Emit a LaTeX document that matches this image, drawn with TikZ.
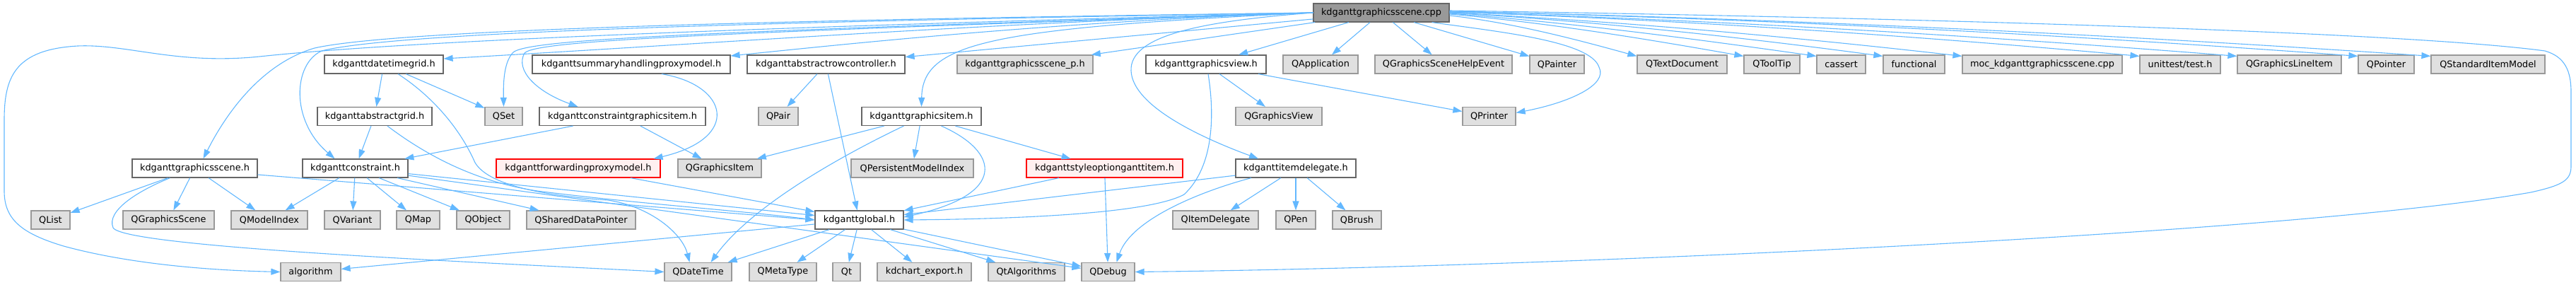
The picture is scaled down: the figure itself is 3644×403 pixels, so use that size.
\documentclass[tikz,border=0pt]{standalone}
\usepackage{fontspec}
\setmainfont{DejaVu Sans}
\usetikzlibrary{arrows.meta}

\definecolor{edgeblue}{HTML}{63B8FF}
\definecolor{darkborder}{HTML}{666666}
\definecolor{sysborder}{HTML}{999999}
\definecolor{sysfill}{HTML}{E0E0E0}
\definecolor{warnfill}{HTML}{FFF0F0}

\begin{document}
\begin{tikzpicture}[x=1pt, y=-1pt,
  base_node/.style={rectangle, line width=1.2pt, minimum height=26pt, inner sep=0pt, font=\fontsize{12.85}{15}\selectfont},
  file_node/.style={base_node, draw=darkborder, fill=white},
  sys_node/.style={base_node, draw=sysborder, fill=sysfill},
  root_node/.style={base_node, draw=darkborder, fill=sysborder},
  warn_node/.style={base_node, draw=red, fill=warnfill},
  dep_edge/.style={draw=edgeblue, line width=1.1pt, -{Triangle[length=13pt, width=9pt]}}]

    \useasboundingbox (0,0) rectangle (3644,403);

    \node[root_node, minimum width=192pt] (cpp) at (1954,18) {kdganttgraphicsscene.cpp};

    % row 1
    \node[file_node, minimum width=168pt] (dtgrid) at (543,91) {kdganttdatetimegrid.h};
    \node[file_node, minimum width=280pt] (summary) at (893,91) {kdganttsummaryhandlingproxymodel.h};
    \node[file_node, minimum width=223pt] (rowctrl) at (1168.5,91) {kdganttabstractrowcontroller.h};
    \node[sys_node, minimum width=192pt] (scenep) at (1450,91) {kdganttgraphicsscene\_p.h};
    \node[file_node, minimum width=170pt] (gview) at (1706,91) {kdganttgraphicsview.h};
    \node[sys_node, minimum width=106pt] (qapp) at (1868,91) {QApplication};
    \node[sys_node, minimum width=194pt] (helpevt) at (2042,91) {QGraphicsSceneHelpEvent};
    \node[sys_node, minimum width=77pt] (qpainter) at (2202.5,91) {QPainter};
    \node[sys_node, minimum width=127pt] (qtextdoc) at (2379.5,91) {QTextDocument};
    \node[sys_node, minimum width=79pt] (qtooltip) at (2506.5,91) {QToolTip};
    \node[sys_node, minimum width=69pt] (cassert) at (2604.5,91) {cassert};
    \node[sys_node, minimum width=87pt] (functional) at (2707.5,91) {functional};
    \node[sys_node, minimum width=226pt] (moccpp) at (2889,91) {moc\_kdganttgraphicsscene.cpp};
    \node[sys_node, minimum width=114pt] (unittest) at (3084,91) {unittest/test.h};
    \node[sys_node, minimum width=147pt] (qlineitem) at (3238.5,91) {QGraphicsLineItem};
    \node[sys_node, minimum width=79pt] (qpointer) at (3375.5,91) {QPointer};
    \node[sys_node, minimum width=161pt] (qstdmodel) at (3519.5,91) {QStandardItemModel};

    % row 2
    \node[file_node, minimum width=162pt] (absgrid) at (530,164.5) {kdganttabstractgrid.h};
    \node[sys_node, minimum width=53pt] (qset) at (712.5,164.5) {QSet};
    \node[file_node, minimum width=235pt] (cgitem) at (880.5,164.5) {kdganttconstraintgraphicsitem.h};
    \node[sys_node, minimum width=56pt] (qpair) at (1101,164.5) {QPair};
    \node[file_node, minimum width=169pt] (gitem) at (1303.5,164.5) {kdganttgraphicsitem.h};
    \node[sys_node, minimum width=122pt] (qgview) at (1809,164.5) {QGraphicsView};
    \node[sys_node, minimum width=75pt] (qprinter) at (2106.5,164.5) {QPrinter};

    % row 3
    \node[file_node, minimum width=177pt] (sceneh) at (275.5,238) {kdganttgraphicsscene.h};
    \node[file_node, minimum width=149pt] (constraint) at (502.5,238) {kdganttconstraint.h};
    \node[warn_node, minimum width=232pt] (fwdproxy) at (818,238) {kdganttforwardingproxymodel.h};
    \node[sys_node, minimum width=118pt] (qgitem) at (1018,238) {QGraphicsItem};
    \node[sys_node, minimum width=173pt] (qpmi) at (1290.5,238) {QPersistentModelIndex};
    \node[warn_node, minimum width=221pt] (styleopt) at (1562.5,238) {kdganttstyleoptionganttitem.h};
    \node[file_node, minimum width=170pt] (delegate) at (1833,238) {kdganttitemdelegate.h};

    % row 4
    \node[sys_node, minimum width=55pt] (qlist) at (71.5,311) {QList};
    \node[sys_node, minimum width=129pt] (qgscene) at (238.5,311) {QGraphicsScene};
    \node[sys_node, minimum width=108pt] (qmodelidx) at (381,311) {QModelIndex};
    \node[sys_node, minimum width=79pt] (qvariant) at (498.5,311) {QVariant};
    \node[sys_node, minimum width=61pt] (qmap) at (591.5,311) {QMap};
    \node[sys_node, minimum width=75pt] (qobject) at (683.5,311) {QObject};
    \node[sys_node, minimum width=154pt] (qshared) at (822,311) {QSharedDataPointer};
    \node[file_node, minimum width=125pt] (global) at (1215.5,311) {kdganttglobal.h};
    \node[sys_node, minimum width=121pt] (qitemdeleg) at (1719.5,311) {QItemDelegate};
    \node[sys_node, minimum width=56pt] (qpen) at (1833,311) {QPen};
    \node[sys_node, minimum width=69pt] (qbrush) at (1919.5,311) {QBrush};

    % row 5
    \node[sys_node, minimum width=85pt] (algorithm) at (439.5,384.5) {algorithm};
    \node[sys_node, minimum width=95pt] (qdatetime) at (987.5,384.5) {QDateTime};
    \node[sys_node, minimum width=95pt] (qmetatype) at (1107.5,384.5) {QMetaType};
    \node[sys_node, minimum width=39pt] (qt) at (1197.5,384.5) {Qt};
    \node[sys_node, minimum width=133pt] (kdchart) at (1307.5,384.5) {kdchart\_export.h};
    \node[sys_node, minimum width=108pt] (qtalgo) at (1452,384.5) {QtAlgorithms};
    \node[sys_node, minimum width=75pt] (qdebug) at (1567.5,384.5) {QDebug};

    % includes of the .cpp
    \draw[dep_edge] (cpp.west) .. controls (1200,35) and (600,55) .. (367,80) .. controls (250,92) and (180,62) .. (110,65) .. controls (20,70) and (6,110) .. (6,170) -- (6,270) .. controls (6,310) and (30,330) .. (90,348) .. controls (200,378) and (330,383) .. (algorithm.west);
    \draw[dep_edge] (cpp.west) .. controls (1100,28) and (560,42) .. (445,68) .. controls (370,90) and (320,160) .. ([xshift=12pt]sceneh.north);
    \draw[dep_edge] (cpp.west) .. controls (1100,30) and (560,45) .. (455,72) .. controls (415,90) and (410,170) .. ([xshift=-29pt]constraint.north);
    \draw[dep_edge] (cpp.west) .. controls (1400,32) and (1000,62) .. ([yshift=8pt]dtgrid.east);
    \draw[dep_edge] (cpp.west) .. controls (1000,45) and (740,55) .. (725,75) .. controls (712,90) and (712,120) .. (qset.north);
    \draw[dep_edge] (cpp.west) .. controls (1000,47) and (760,57) .. (742,75) .. controls (728,100) and (760,130) .. ([xshift=-63pt]cgitem.north);
    \draw[dep_edge] (cpp.west) .. controls (1500,30) and (1200,62) .. ([yshift=12pt]summary.east);
    \draw[dep_edge] (cpp) -- (rowctrl);
    \draw[dep_edge] (cpp.west) .. controls (1400,40) and (1305,60) .. (gitem.north);
    \draw[dep_edge] (cpp) -- (scenep);
    \draw[dep_edge] (cpp) -- (gview);
    \draw[dep_edge] (cpp.west) .. controls (1700,30) and (1598,50) .. (1600,100) .. controls (1602,150) and (1700,195) .. ([xshift=-53pt]delegate.north);
    \draw[dep_edge] (cpp) -- (qapp);
    \draw[dep_edge] (cpp) -- (helpevt);
    \draw[dep_edge] (cpp) -- (qpainter);
    \draw[dep_edge] ([xshift=-25pt]cpp.south east) .. controls (2120,45) and (2250,58) .. (2262,95) .. controls (2275,120) and (2220,145) .. ([yshift=5pt]qprinter.east);
    \draw[dep_edge] ([yshift=-4pt]cpp.east) .. controls (2139,32) and (2227,55) .. ([yshift=-2pt]qtextdoc.north west);
    \draw[dep_edge] ([yshift=-2pt]cpp.east) .. controls (2189,32) and (2328,55) .. ([yshift=-2pt]qtooltip.north west);
    \draw[dep_edge] ([yshift=-1pt]cpp.east) .. controls (2223,32) and (2397,55) .. ([yshift=-2pt]cassert.north west);
    \draw[dep_edge] (cpp.east) .. controls (2255,30) and (2459,52) .. ([yshift=-2pt]functional.north west);
    \draw[dep_edge] (cpp.east) .. controls (2292,30) and (2534,52) .. ([yshift=-2pt]moccpp.north west);
    \draw[dep_edge] ([yshift=1pt]cpp.east) .. controls (2376,28) and (2701,50) .. ([yshift=-2pt]unittest.north west);
    \draw[dep_edge] ([yshift=1pt]cpp.east) .. controls (2422,28) and (2793,50) .. ([yshift=-2pt]qlineitem.north west);
    \draw[dep_edge] ([yshift=2pt]cpp.east) .. controls (2479,26) and (2907,48) .. ([yshift=-2pt]qpointer.north west);
    \draw[dep_edge] ([yshift=2pt]cpp.east) .. controls (2513,26) and (2976,48) .. ([yshift=-2pt]qstdmodel.north west);
    \draw[dep_edge] ([yshift=3pt]cpp.east) .. controls (2700,25) and (3400,45) .. (3600,72) .. controls (3628,80) and (3637,100) .. (3637,130) -- (3637,235) .. controls (3637,255) and (3625,262) .. (3580,272) .. controls (3250,330) and (2200,378) .. (qdebug.east);

    % headers
    \draw[dep_edge] (dtgrid) -- (absgrid);
    \draw[dep_edge] (dtgrid) -- (qset);
    \draw[dep_edge] ([xshift=20pt]dtgrid.south) .. controls (610,135) and (650,180) .. (672,230) .. controls (690,260) and (760,276) .. (860,283) .. controls (920,292) and (965,330) .. ([xshift=-12pt]qdatetime.north);
    \draw[dep_edge] (absgrid) -- (constraint);
    \draw[dep_edge] ([xshift=18pt]absgrid.south) .. controls (610,225) and (680,258) .. (760,270) .. controls (900,288) and (1050,298) .. (global.west);
    \draw[dep_edge] ([xshift=43pt]summary.south) .. controls (1030,120) and (1050,195) .. ([xshift=-10pt]fwdproxy.north east);
    \draw[dep_edge] (cgitem) -- (constraint);
    \draw[dep_edge] (cgitem) -- (qgitem);
    \draw[dep_edge] (rowctrl) -- (qpair);
    \draw[dep_edge] (rowctrl) -- (global);
    \draw[dep_edge] (gitem) -- (qgitem);
    \draw[dep_edge] ([xshift=-25pt]gitem.south) .. controls (1180,225) and (1060,295) .. ([xshift=18pt]qdatetime.north);
    \draw[dep_edge] (gitem) -- (qpmi);
    \draw[dep_edge] ([xshift=28pt]gitem.south) .. controls (1415,215) and (1425,275) .. ([yshift=4pt]global.east);
    \draw[dep_edge] (gitem) -- (styleopt);
    \draw[dep_edge] (gview) -- (qgview);
    \draw[dep_edge] (gview) -- (qprinter);
    \draw[dep_edge] ([xshift=3pt]gview.south) .. controls (1718,160) and (1718,235) .. (1675,275) .. controls (1620,305) and (1400,310) .. (global.east);
    \draw[dep_edge] (sceneh) -- (qlist);
    \draw[dep_edge] (sceneh) -- (qgscene);
    \draw[dep_edge] (sceneh) -- (qmodelidx);
    \draw[dep_edge] ([yshift=-9pt]sceneh.east) -- (global.west);
    \draw[dep_edge] ([xshift=-35pt]sceneh.south) .. controls (195,270) and (150,298) .. (160,322) .. controls (175,350) and (700,372) .. (qdatetime.west);
    \draw[dep_edge] (constraint) -- (qmodelidx);
    \draw[dep_edge] (constraint) -- (qvariant);
    \draw[dep_edge] (constraint) -- (qmap);
    \draw[dep_edge] (constraint) -- (qobject);
    \draw[dep_edge] (constraint) -- (qshared);
    \draw[dep_edge] (constraint) -- (global);
    \draw[dep_edge] (constraint) -- (qdebug);
    \draw[dep_edge] (fwdproxy) -- (global);
    \draw[dep_edge] (styleopt) -- (global);
    \draw[dep_edge] (styleopt) -- (qdebug);
    \draw[dep_edge] (delegate) -- (global);
    \draw[dep_edge] ([xshift=-63pt]delegate.south) .. controls (1700,270) and (1600,310) .. ([xshift=12pt]qdebug.north);
    \draw[dep_edge] (delegate) -- (qitemdeleg);
    \draw[dep_edge] (delegate) -- (qpen);
    \draw[dep_edge] (delegate) -- (qbrush);

    % kdganttglobal.h
    \draw[dep_edge] (global) -- (algorithm);
    \draw[dep_edge] (global) -- (qdatetime);
    \draw[dep_edge] (global) -- (qmetatype);
    \draw[dep_edge] (global) -- (qt);
    \draw[dep_edge] (global) -- (kdchart);
    \draw[dep_edge] (global) -- (qtalgo);
    \draw[dep_edge] (global) -- (qdebug);
\end{tikzpicture}
\end{document}
